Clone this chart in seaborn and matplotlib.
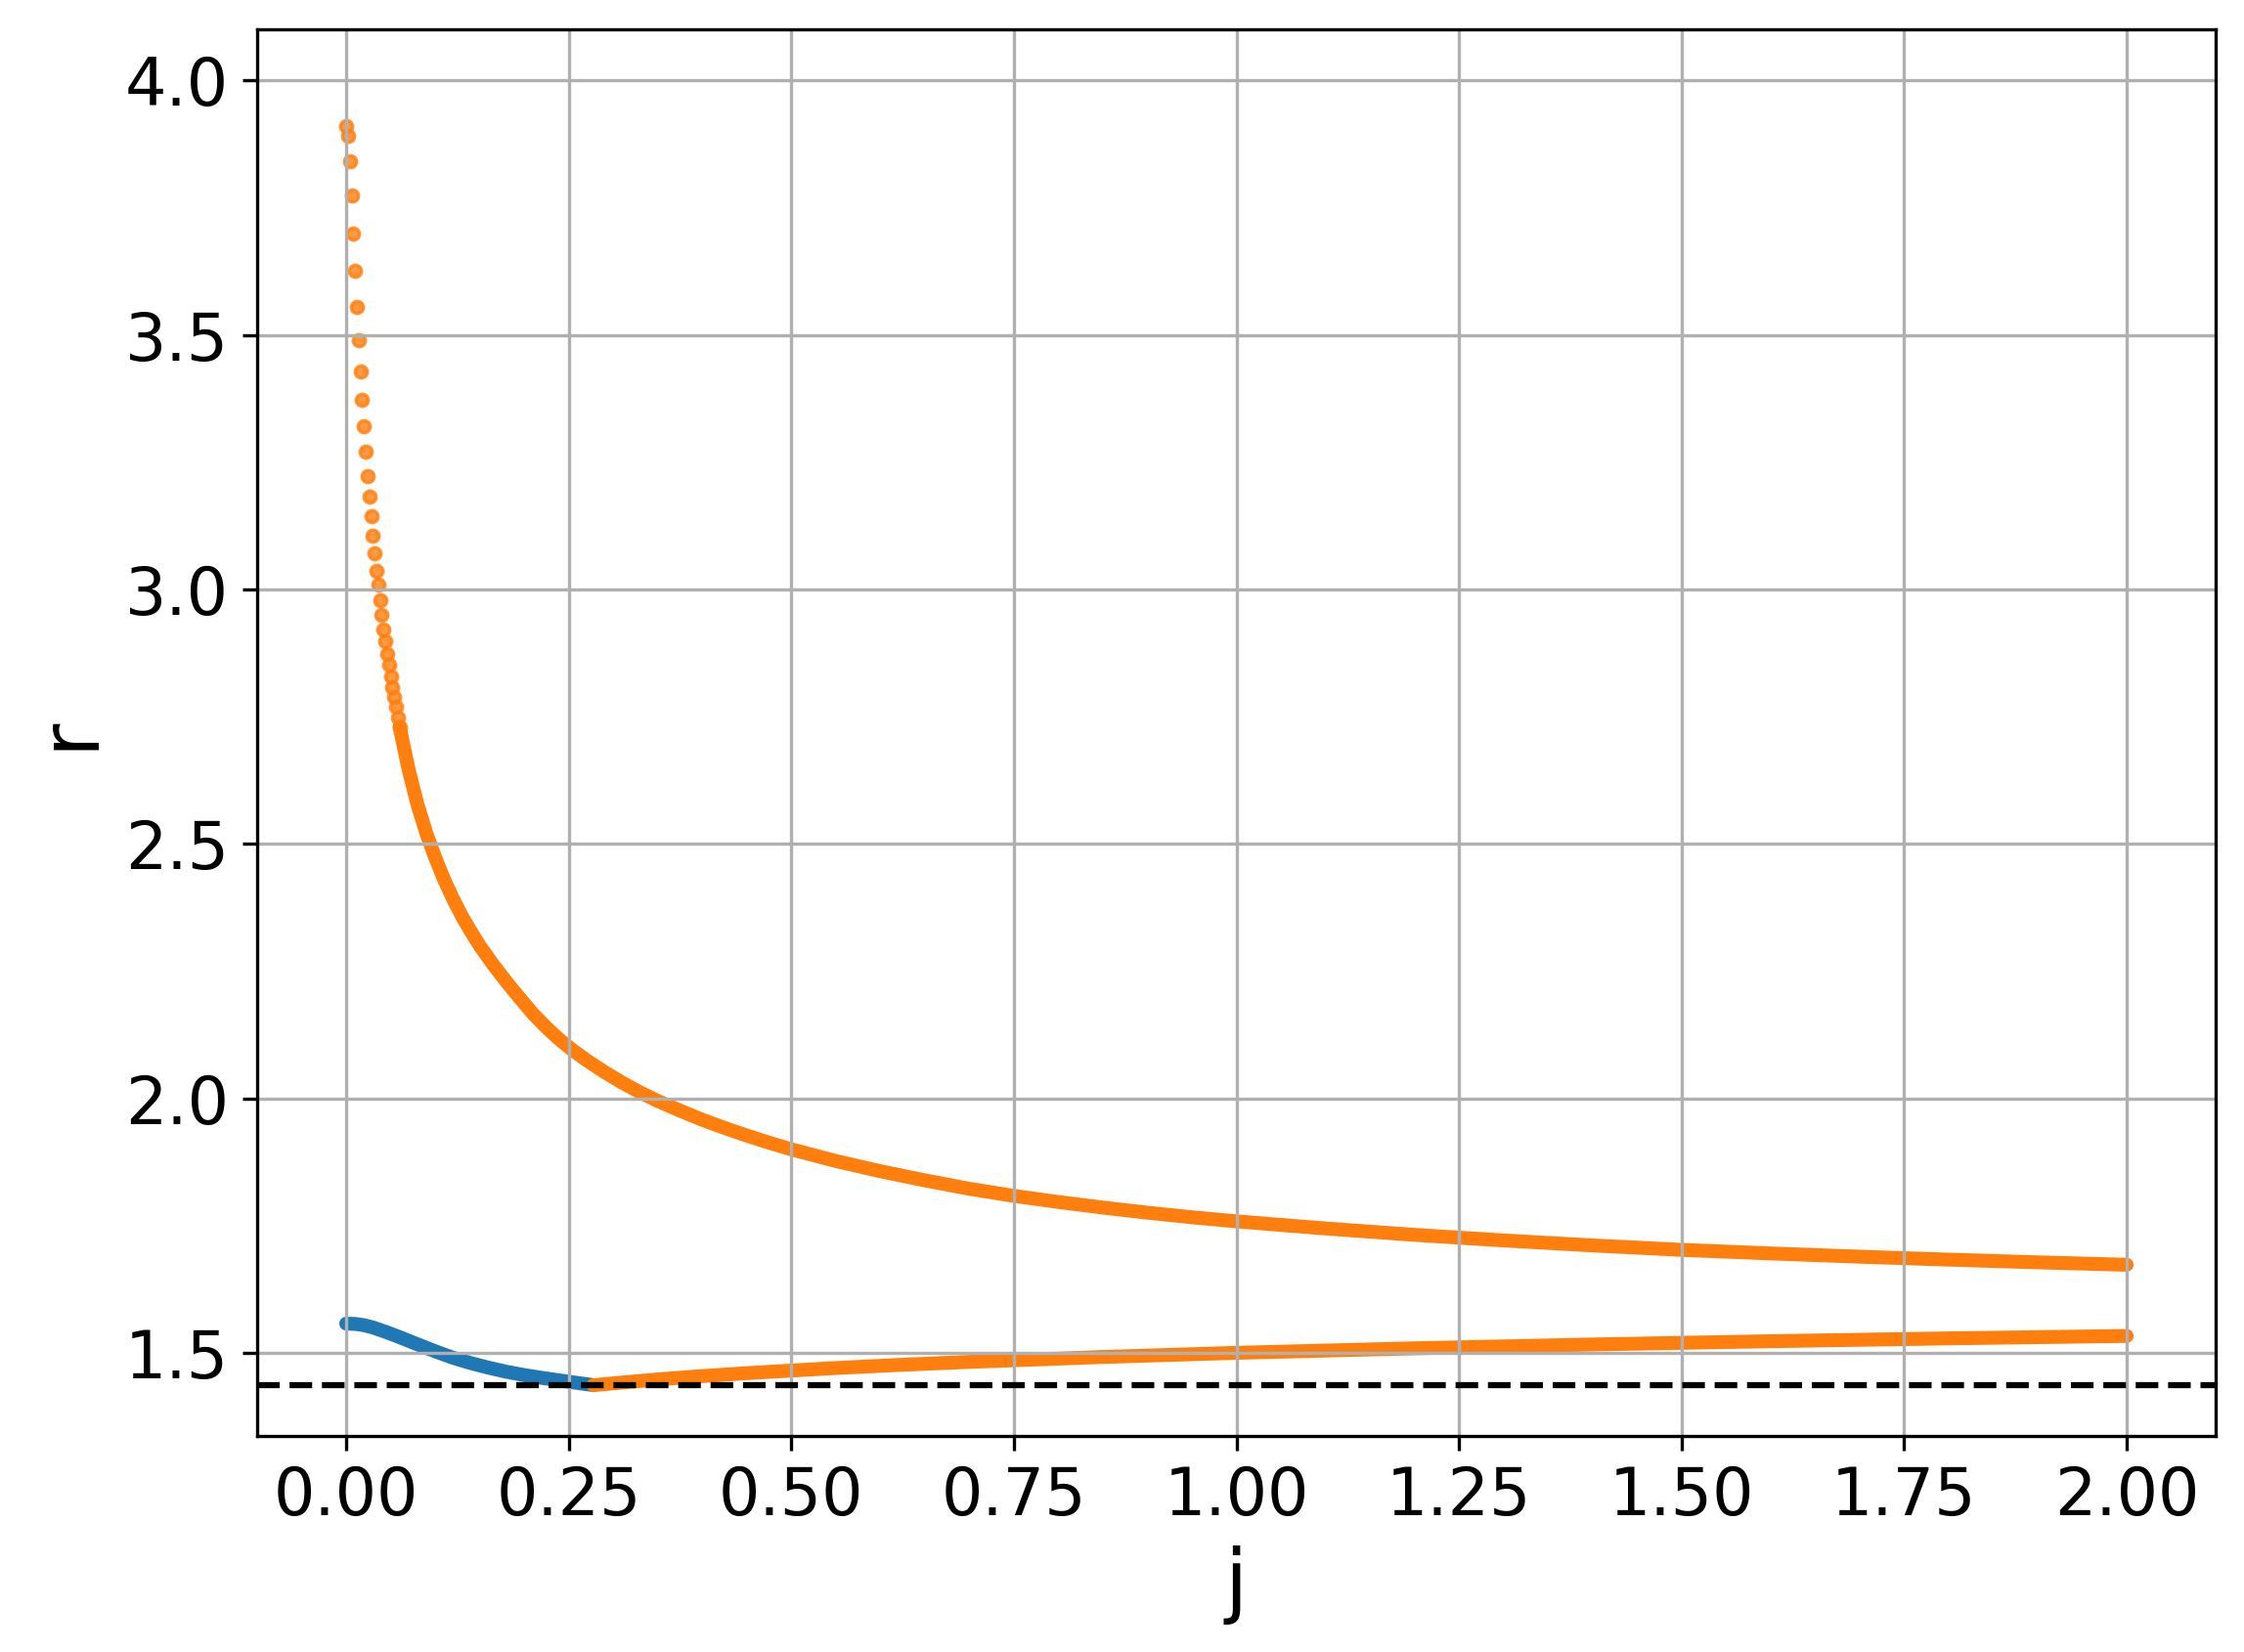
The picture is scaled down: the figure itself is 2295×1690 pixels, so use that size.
import matplotlib
matplotlib.use("Agg")
import matplotlib.pyplot as plt
import seaborn as sns

# upper branch: first points, spread out enough to show as separate dots
j_sparse = [0.000, 0.002, 0.004, 0.006, 0.008, 0.010, 0.012, 0.014, 0.016, 0.018,
            0.020, 0.022, 0.024, 0.026, 0.028, 0.030, 0.032, 0.034, 0.036, 0.038,
            0.040, 0.042, 0.044, 0.046, 0.048, 0.050, 0.052, 0.054, 0.056, 0.058,
            0.060]
r_sparse = [3.910, 3.890, 3.840, 3.773, 3.698, 3.625, 3.554, 3.489, 3.428, 3.372,
            3.320, 3.270, 3.223, 3.182, 3.143, 3.105, 3.071, 3.037, 3.009, 2.978,
            2.949, 2.922, 2.898, 2.874, 2.852, 2.829, 2.807, 2.788, 2.769, 2.749,
            2.730]

# upper branch: dense part
j_upper = [0.060, 0.070, 0.080, 0.090, 0.100, 0.110, 0.120, 0.130, 0.140, 0.150,
           0.165, 0.180, 0.195, 0.210, 0.225, 0.240, 0.255, 0.270, 0.290, 0.310,
           0.330, 0.350, 0.375, 0.400, 0.425, 0.450, 0.475, 0.500, 0.550, 0.600,
           0.650, 0.700, 0.750, 0.800, 0.850, 0.900, 0.950, 1.000, 1.100, 1.200,
           1.300, 1.400, 1.500, 1.600, 1.700, 1.800, 1.900, 2.000]
r_upper = [2.730, 2.647, 2.578, 2.521, 2.473, 2.430, 2.392, 2.358, 2.328, 2.300,
           2.263, 2.229, 2.197, 2.166, 2.139, 2.115, 2.094, 2.075, 2.052, 2.031,
           2.012, 1.995, 1.976, 1.958, 1.942, 1.927, 1.913, 1.900, 1.877, 1.857,
           1.839, 1.8225, 1.8085, 1.7965, 1.7855, 1.7755, 1.7665, 1.7585, 1.7445, 1.7320,
           1.7210, 1.7112, 1.7025, 1.6955, 1.6891, 1.6833, 1.6780, 1.6732]

# lower orange branch
j_lower = [0.2775, 0.300, 0.350, 0.400, 0.450, 0.550, 0.625, 0.700, 0.850, 1.000,
           1.200, 1.400, 1.600, 1.800, 2.000]
r_lower = [1.4366, 1.4403, 1.4480, 1.4545, 1.4603, 1.4704, 1.4768, 1.4824, 1.4921,
           1.5002, 1.5091, 1.5166, 1.5230, 1.5286, 1.5334]

# blue branch
j_blue = [0.000, 0.010, 0.020, 0.030, 0.045, 0.060, 0.075, 0.090, 0.105, 0.120,
          0.140, 0.160, 0.180, 0.200, 0.220, 0.240, 0.260, 0.276]
r_blue = [1.5576, 1.5570, 1.5545, 1.5500, 1.5410, 1.5310, 1.5205, 1.5100, 1.5000,
          1.4905, 1.4800, 1.4710, 1.4630, 1.4565, 1.4510, 1.4460, 1.4410, 1.4372]

r_min = 1.4366

orange = "#ff7f0e"
blue = "#1f77b4"

fig, ax = plt.subplots(figsize=(7.65, 5.6334), dpi=300)
fig.subplots_adjust(left=0.1146, right=0.9874, bottom=0.1308, top=0.9822)

ax.grid(True)

# dense parts as thick lines, kept under the grid like the scatter was
line_kw = dict(linewidth=3.4, solid_capstyle="round", solid_joinstyle="round",
               estimator=None, sort=False, zorder=1)
sns.lineplot(x=j_blue, y=r_blue, ax=ax, color=blue, **line_kw)
sns.lineplot(x=j_upper, y=r_upper, ax=ax, color=orange, **line_kw)
sns.lineplot(x=j_lower, y=r_lower, ax=ax, color=orange, **line_kw)
sns.scatterplot(x=j_sparse, y=r_sparse, ax=ax, color=orange, s=9, alpha=0.8,
                edgecolor=orange, linewidth=0.8, zorder=1)

ax.axhline(r_min, color="black", linestyle="--", linewidth=1.5)

ax.set_xlim(-0.1, 2.1)
ax.set_ylim(1.337, 4.10)
ax.set_xticks([0.0, 0.25, 0.5, 0.75, 1.0, 1.25, 1.5, 1.75, 2.0])
ax.set_xticklabels(["0.00", "0.25", "0.50", "0.75", "1.00", "1.25", "1.50", "1.75", "2.00"])
ax.set_yticks([1.5, 2.0, 2.5, 3.0, 3.5, 4.0])
ax.tick_params(labelsize=16)
ax.set_xlabel("j", fontsize=20)
ax.set_ylabel("r", fontsize=20)

fig.savefig("out.png", dpi=300)
